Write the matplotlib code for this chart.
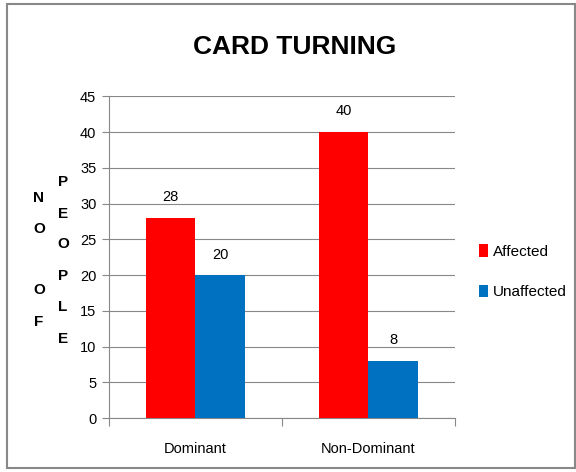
import matplotlib.pyplot as plt
import numpy as np
from matplotlib.patches import Rectangle

plt.rcParams['font.family'] = ['Liberation Sans', 'DejaVu Sans']

# Dados do gráfico
categories = ["Dominant", "Non-Dominant"]
affected = [28, 40]
unaffected = [20, 8]
series_names = ["Affected", "Unaffected"]
y_ticks = [0, 5, 10, 15, 20, 25, 30, 35, 40, 45]

fig = plt.figure(figsize=(5.76, 4.72), dpi=100)
ax = fig.add_axes([0.189, 0.114, 0.601, 0.682])

x = np.arange(len(categories))
w = 0.286
b1 = ax.bar(x - w / 2, affected, w, color="#ff0000", label=series_names[0], zorder=3)
b2 = ax.bar(x + w / 2, unaffected, w, color="#0070c0", label=series_names[1], zorder=3)

for bars in (b1, b2):
    for rect in bars:
        ax.text(rect.get_x() + rect.get_width() / 2, rect.get_height() + 1.9,
                f"{int(rect.get_height())}", ha="center", va="bottom", fontsize=10.5)

ax.set_xlim(-0.5, 1.5)
ax.set_ylim(0, 45)
ax.set_yticks(y_ticks)
ax.set_xticks([-0.5, 0.5, 1.5], minor=False)
ax.set_xticklabels([])
ax.set_xticks(x, minor=True)
ax.set_xticklabels(categories, minor=True, fontsize=10.5)
ax.tick_params(axis="x", which="minor", length=0, pad=17)
ax.tick_params(axis="x", which="major", length=6, color="#888888", direction="out")
ax.tick_params(axis="y", length=5, color="#888888", labelsize=10.5, pad=4)

ax.grid(axis="y", color="#888888", linewidth=0.8, zorder=0)
for side in ["top", "right"]:
    ax.spines[side].set_visible(False)
ax.spines["left"].set_color("#888888")
ax.spines["bottom"].set_color("#888888")

fig.text(0.512, 0.9, "CARD TURNING", ha="center", va="center",
         fontsize=19, fontweight="bold")

# Rótulo vertical do eixo y, letra por letra
left_col = [("N", 198), ("O", 229), ("O", 290), ("F", 322)]
right_col = [("P", 182), ("E", 214), ("O", 244), ("P", 276), ("L", 307), ("E", 339)]
for ch, yp in left_col:
    fig.text(39 / 576, 1 - yp / 472, ch, ha="center", va="center", fontsize=11, fontweight="bold")
for ch, yp in right_col:
    fig.text(63 / 576, 1 - yp / 472, ch, ha="center", va="center", fontsize=11, fontweight="bold")

ax.legend(loc="center left", bbox_to_anchor=(1.03, 0.455), frameon=False,
          fontsize=11, handlelength=0.6, handleheight=0.9, handletextpad=0.3,
          labelspacing=1.7)

fig.patches.append(Rectangle((7 / 576, 4 / 472), 568 / 576, 464 / 472,
                             transform=fig.transFigure, fill=False,
                             edgecolor="#888888", linewidth=1.5))

plt.savefig("out.png", dpi=100)
